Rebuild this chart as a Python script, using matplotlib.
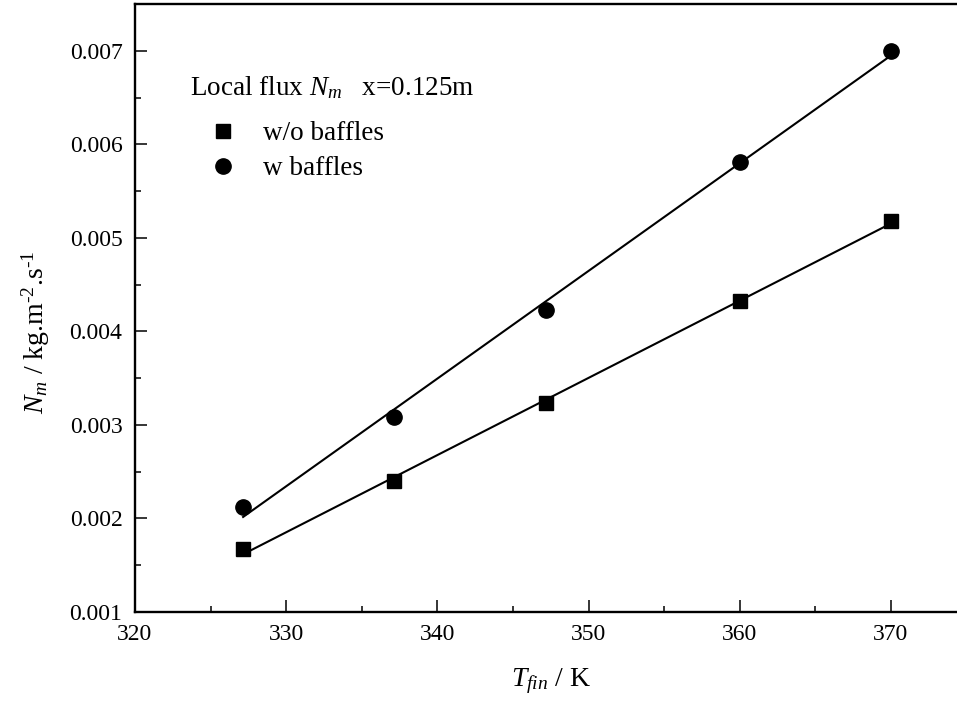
import numpy as np
import matplotlib
matplotlib.use("Agg")
import matplotlib.pyplot as plt
from matplotlib.ticker import MultipleLocator, FormatStrFormatter

# data
t_fin = [327.15, 337.15, 347.15, 360.0, 370.0]
flux_no_baffles = [0.00167, 0.00240, 0.00323, 0.00433, 0.00518]
flux_baffles = [0.00212, 0.00309, 0.00423, 0.00581, 0.00700]

plt.rcParams["font.family"] = "Liberation Serif"
plt.rcParams["mathtext.fontset"] = "custom"
plt.rcParams["mathtext.rm"] = "Liberation Serif"
plt.rcParams["mathtext.it"] = "Liberation Serif:italic"

W, H = 957, 703
fig = plt.figure(figsize=(W / 100, H / 100), dpi=100)
ax = fig.add_axes([135 / W, 1 - 612 / H, 831.6 / W, 608 / H])

# linear fits
x = np.array(t_fin)
for ys in (flux_no_baffles, flux_baffles):
    k, b = np.polyfit(x, ys, 1)
    ax.plot(x[[0, -1]], k * x[[0, -1]] + b, color="black", lw=1.5)

ax.plot(t_fin, flux_no_baffles, ls="none", marker="s", ms=9.5, color="black",
        label="w/o baffles")
ax.plot(t_fin, flux_baffles, ls="none", marker="o", ms=11, color="black",
        label="w baffles")

ax.set_xlim(320, 375)
ax.set_ylim(0.001, 0.0075)
ax.xaxis.set_major_locator(MultipleLocator(10))
ax.xaxis.set_minor_locator(MultipleLocator(5))
ax.yaxis.set_major_locator(MultipleLocator(0.001))
ax.yaxis.set_minor_locator(MultipleLocator(0.0005))
ax.yaxis.set_major_formatter(FormatStrFormatter("%.3f"))
ax.tick_params(which="both", direction="in", width=1.1, labelsize=17)
ax.tick_params(which="major", length=8.6, pad=9)
ax.tick_params(which="minor", length=4.3)
for s in ax.spines.values():
    s.set_linewidth(1.7)

ax.set_xlabel(r"$T_{fin}$ / K", fontsize=20)
ax.set_ylabel(r"$N_m$ / kg.m$^{\mathrm{‐2}}$.s$^{\mathrm{‐1}}$", fontsize=20)
ax.xaxis.set_label_coords(0.5, -0.09)
ax.yaxis.set_label_coords(-0.10, 0.46)

fig.text(190 / W, 1 - 95 / H, r"Local flux $N_m$   x=0.125m", fontsize=19.5,
         va="baseline", ha="left")
ax.legend(loc="upper left", bbox_to_anchor=(190 / W, 1 - 121 / H),
          bbox_transform=fig.transFigure, frameon=False, fontsize=19.5,
          borderpad=0, borderaxespad=0, handlelength=2.4,
          handletextpad=0.3, labelspacing=0.38)

fig.savefig("out.png", dpi=100)
